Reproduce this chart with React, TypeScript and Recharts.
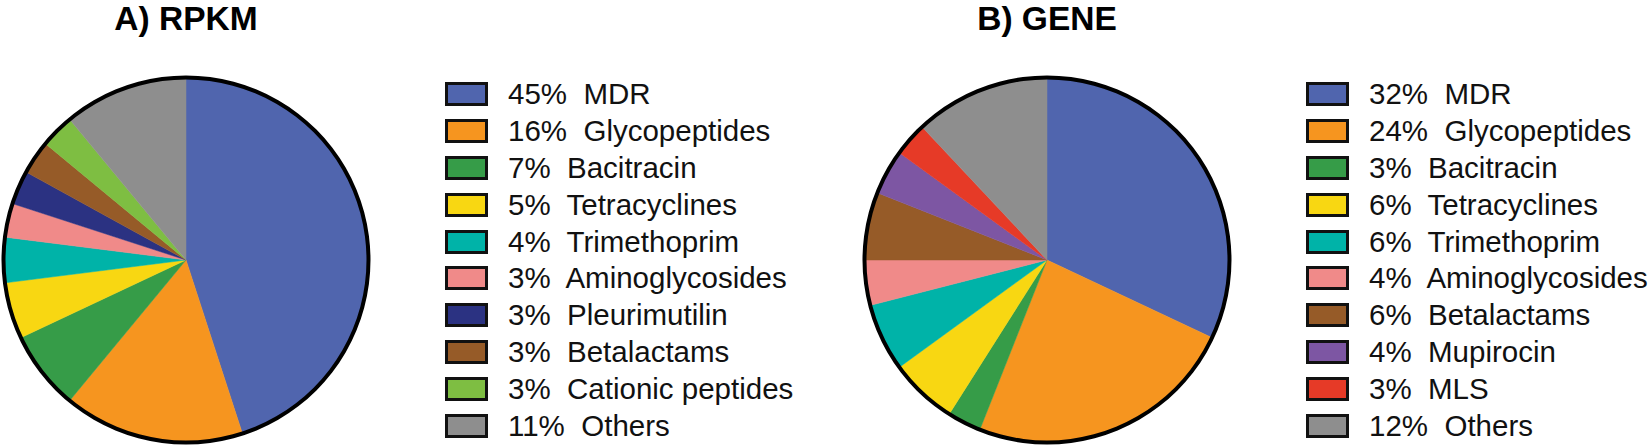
import { PieChart, Pie, Cell, Legend } from 'recharts';

const rpkmNames = [
  'MDR',
  'Glycopeptides',
  'Bacitracin',
  'Tetracyclines',
  'Trimethoprim',
  'Aminoglycosides',
  'Pleurimutilin',
  'Betalactams',
  'Cationic peptides',
  'Others',
];
const rpkmValues = [45, 16, 7, 5, 4, 3, 3, 3, 3, 11];
const rpkmColors = [
  '#5065ae',
  '#f6951f',
  '#369c48',
  '#f8d712',
  '#00b3a8',
  '#f08a89',
  '#2b3282',
  '#965b28',
  '#7ebe42',
  '#8e8e8e',
];

const geneNames = [
  'MDR',
  'Glycopeptides',
  'Bacitracin',
  'Tetracyclines',
  'Trimethoprim',
  'Aminoglycosides',
  'Betalactams',
  'Mupirocin',
  'MLS',
  'Others',
];
const geneValues = [32, 24, 3, 6, 6, 4, 6, 4, 3, 12];
const geneColors = [
  '#5065ae',
  '#f6951f',
  '#369c48',
  '#f8d712',
  '#00b3a8',
  '#f08a89',
  '#965b28',
  '#7d56a3',
  '#e63a27',
  '#8e8e8e',
];

const FONT = '"Liberation Sans", Arial, Helvetica, sans-serif';
const ring = [{ name: 'ring', value: 1 }];

function LegendList({ names, values, colors }: { names: string[]; values: number[]; colors: string[] }) {
  return (
    <div style={{ fontFamily: FONT }}>
      {names.map((n, i) => (
        <div key={n} style={{ display: 'flex', alignItems: 'center', height: 36.8 }}>
          <div
            style={{
              width: 37,
              height: 18,
              background: colors[i],
              border: '3px solid #111',
              marginRight: 20,
              flexShrink: 0,
            }}
          />
          <span style={{ fontSize: 29.5, lineHeight: '24px', color: '#111', whiteSpace: 'pre' }}>
            {`${values[i]}%  ${n}`}
          </span>
        </div>
      ))}
    </div>
  );
}

function PiePanel({
  title,
  names,
  values,
  colors,
  width,
  cx,
  legendLeft,
}: {
  title: string;
  names: string[];
  values: number[];
  colors: string[];
  width: number;
  cx: number;
  legendLeft: number;
}) {
  const data = names.map((n, i) => ({ name: n, value: values[i] }));
  return (
    <div style={{ position: 'relative', width, height: 447 }}>
      <div
        style={{
          position: 'absolute',
          left: cx - 150,
          width: 300,
          top: 0,
          textAlign: 'center',
          fontFamily: FONT,
          fontWeight: 'bold',
          fontSize: 33.5,
          lineHeight: 'normal',
          color: '#000',
        }}
      >
        {title}
      </div>
      <PieChart width={width} height={447} margin={{ top: 0, right: 0, bottom: 0, left: 0 }}>
        <Pie
          data={data}
          dataKey="value"
          nameKey="name"
          cx={cx}
          cy={260}
          outerRadius={182}
          startAngle={90}
          endAngle={-270}
          isAnimationActive={false}
        >
          {data.map((d, i) => (
            <Cell key={d.name} fill={colors[i]} stroke={colors[i]} strokeWidth={0.5} />
          ))}
        </Pie>
        <Pie
          data={ring}
          dataKey="value"
          cx={cx}
          cy={260}
          innerRadius={180.5}
          outerRadius={184.5}
          startAngle={90}
          endAngle={-270}
          fill="#000"
          stroke="none"
          legendType="none"
          isAnimationActive={false}
        />
        <Legend
          layout="vertical"
          align="right"
          verticalAlign="middle"
          wrapperStyle={{ position: 'absolute', left: legendLeft, top: 76, width: 420 }}
          content={() => <LegendList names={names} values={values} colors={colors} />}
        />
      </PieChart>
    </div>
  );
}

export default function App() {
  return (
    <div
      style={{
        position: 'absolute',
        left: 0,
        top: 0,
        width: 1649,
        height: 447,
        background: '#fff',
        display: 'flex',
        overflow: 'hidden',
      }}
    >
      <PiePanel
        title="A) RPKM"
        names={rpkmNames}
        values={rpkmValues}
        colors={rpkmColors}
        width={850}
        cx={186}
        legendLeft={445}
      />
      <PiePanel
        title="B) GENE"
        names={geneNames}
        values={geneValues}
        colors={geneColors}
        width={799}
        cx={197}
        legendLeft={456}
      />
    </div>
  );
}
